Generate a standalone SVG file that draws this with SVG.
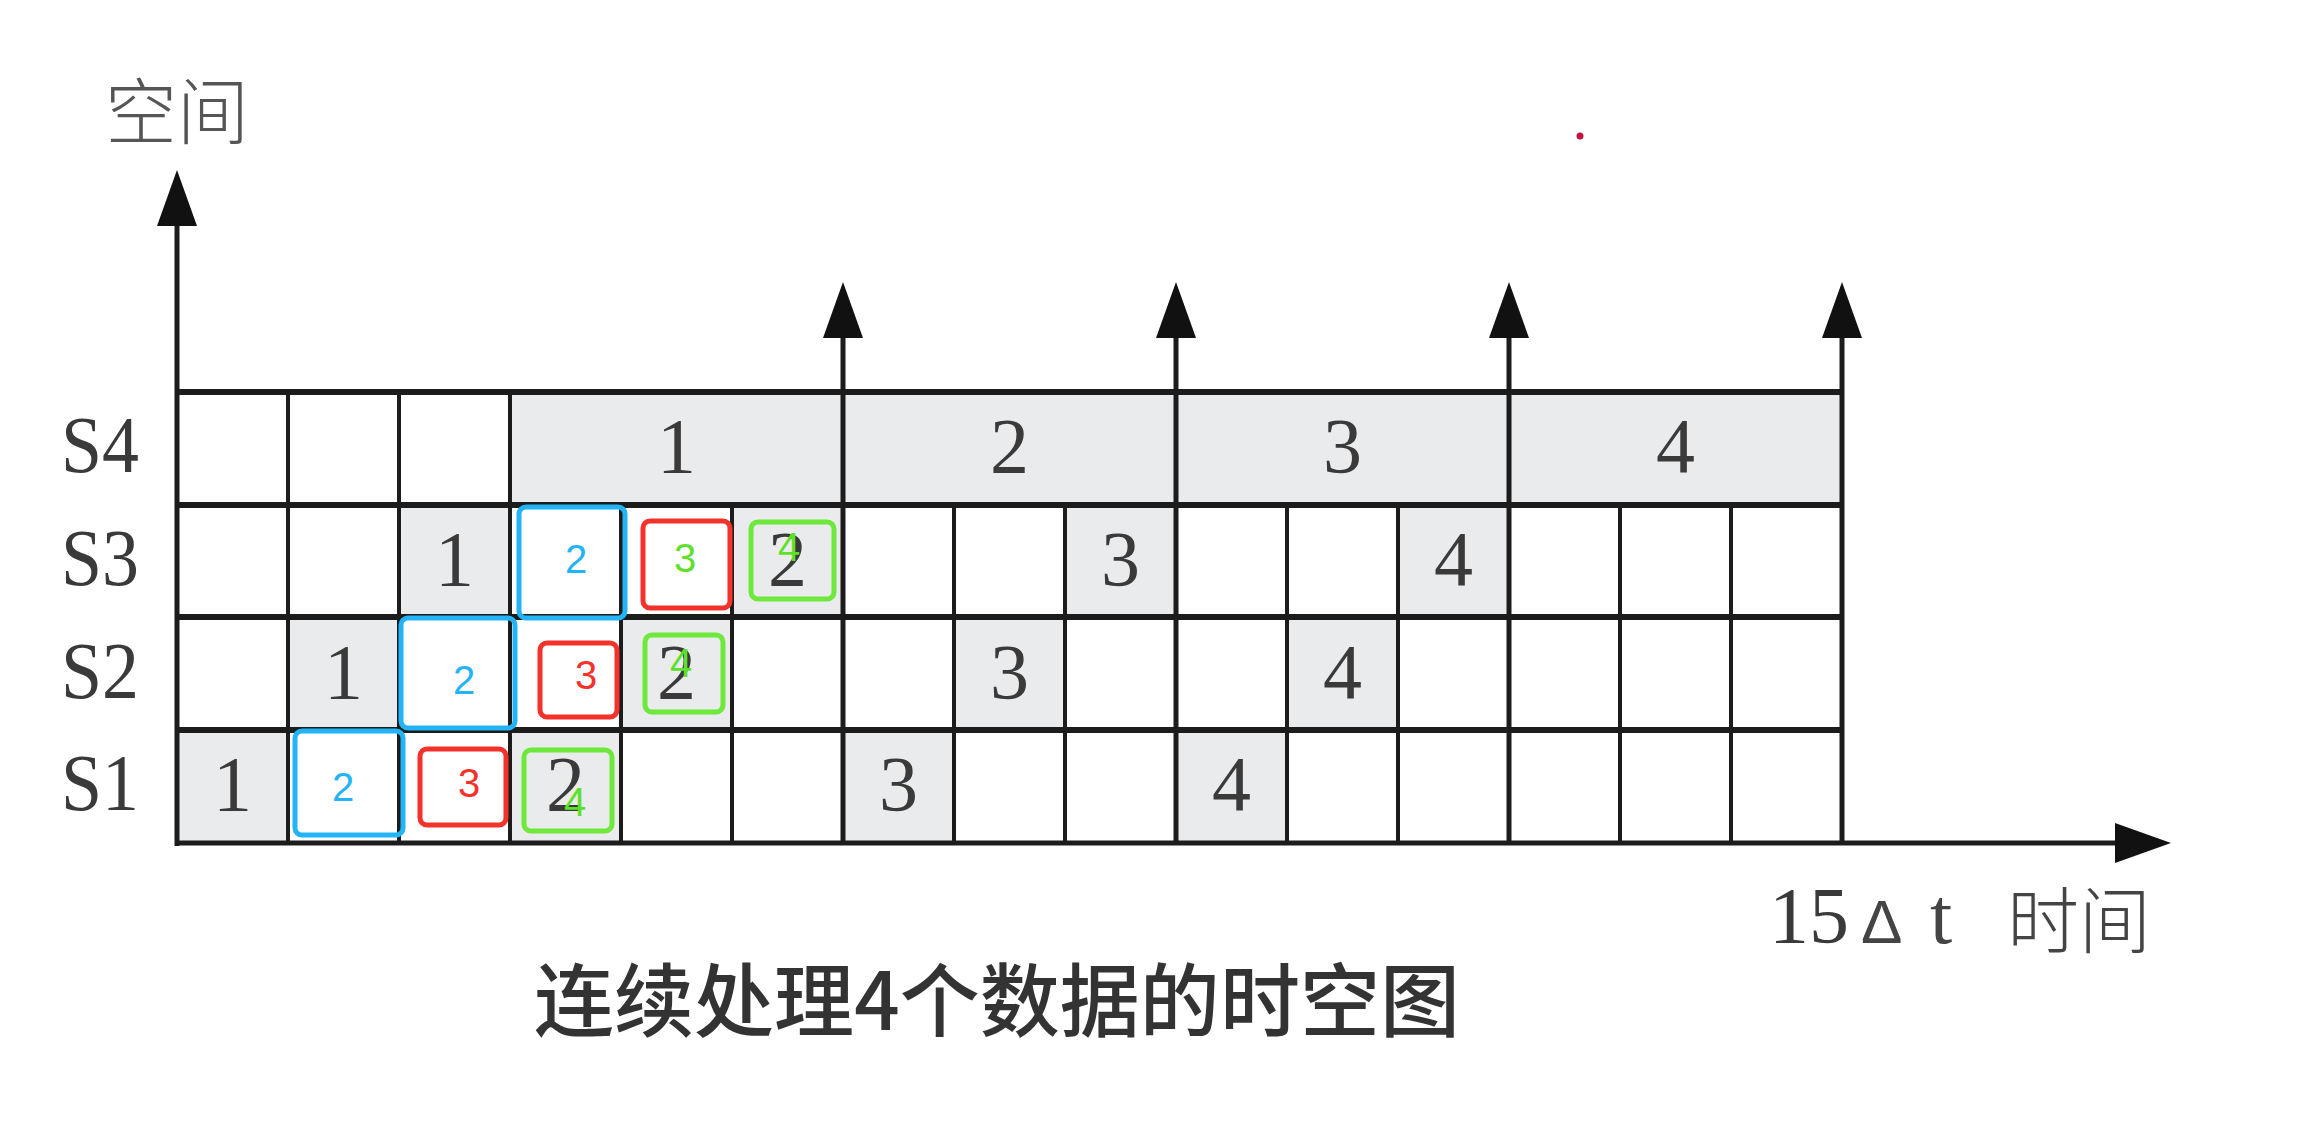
<svg xmlns="http://www.w3.org/2000/svg" width="2300" height="1130" viewBox="0 0 2300 1130">
<defs>
<marker id="ah" viewBox="0 0 56 40" refX="36" refY="20" markerWidth="56" markerHeight="40" markerUnits="userSpaceOnUse" orient="auto"><path d="M0,0 L56,20 L0,40 z" fill="#111"/></marker>
</defs>
<style>
.g{fill:#e9ebed}
.ln{stroke:#1c1c1c;stroke-width:4;fill:none}
.hl{stroke:#1c1c1c;stroke-width:6;fill:none}
.ax{stroke:#1c1c1c;stroke-width:5;fill:none;marker-end:url(#ah)}
.d{font-family:"Liberation Serif","Times New Roman",serif;font-size:78px;fill:#3a3a3a;text-anchor:middle}
.s{font-family:"Liberation Serif","Times New Roman",serif;font-size:80px;fill:#3a3a3a}
.a{font-family:"Liberation Sans",Arial,sans-serif;font-size:40px;text-anchor:middle}
.cjk{font-family:"Noto Sans CJK SC",sans-serif}
.bb{fill:none;stroke:#22b4f6;stroke-width:5}
.rb{fill:none;stroke:#f2322b;stroke-width:5}
.gb{fill:none;stroke:#6ee83a;stroke-width:5}
.bt{fill:#22b4f6}.rt{fill:#f2322b}.gt{fill:#5fe02a}
</style>
<rect width="2300" height="1130" fill="#ffffff"/>

<g id="shading">
<rect class="g" x="177" y="730" width="111" height="113"/>
<rect class="g" x="510" y="730" width="111" height="113"/>
<rect class="g" x="843" y="730" width="111" height="113"/>
<rect class="g" x="1176" y="730" width="111" height="113"/>
<rect class="g" x="288" y="617" width="111" height="113"/>
<rect class="g" x="621" y="617" width="111" height="113"/>
<rect class="g" x="954" y="617" width="111" height="113"/>
<rect class="g" x="1287" y="617" width="111" height="113"/>
<rect class="g" x="399" y="505" width="111" height="112"/>
<rect class="g" x="732" y="505" width="111" height="112"/>
<rect class="g" x="1065" y="505" width="111" height="112"/>
<rect class="g" x="1398" y="505" width="111" height="112"/>
<rect class="g" x="510" y="392" width="1332" height="113"/>
</g>

<g id="connectors">
<line class="hl" x1="177" y1="392" x2="1842" y2="392"/>
<line class="hl" x1="177" y1="505" x2="1842" y2="505"/>
<line class="hl" x1="177" y1="617" x2="1842" y2="617"/>
<line class="hl" x1="177" y1="730" x2="1842" y2="730"/>
<line class="ln" x1="288" y1="392" x2="288" y2="843"/>
<line class="ln" x1="399" y1="392" x2="399" y2="843"/>
<line class="ln" x1="510" y1="392" x2="510" y2="843"/>
<line class="ln" x1="621" y1="505" x2="621" y2="843"/>
<line class="ln" x1="732" y1="505" x2="732" y2="843"/>
<line class="ln" x1="954" y1="505" x2="954" y2="843"/>
<line class="ln" x1="1065" y1="505" x2="1065" y2="843"/>
<line class="ln" x1="1287" y1="505" x2="1287" y2="843"/>
<line class="ln" x1="1398" y1="505" x2="1398" y2="843"/>
<line class="ln" x1="1620" y1="505" x2="1620" y2="843"/>
<line class="ln" x1="1731" y1="505" x2="1731" y2="843"/>
<line class="ax" x1="843" y1="843" x2="843" y2="302"/>
<line class="ax" x1="1176" y1="843" x2="1176" y2="302"/>
<line class="ax" x1="1509" y1="843" x2="1509" y2="302"/>
<line class="ax" x1="1842" y1="843" x2="1842" y2="302"/>
<line class="ax" x1="177" y1="846" x2="177" y2="190"/>
<line class="ax" x1="175" y1="843" x2="2151" y2="843"/>
</g>

<g id="labels">
<text class="s" x="61" y="472" textLength="78" lengthAdjust="spacingAndGlyphs">S4</text>
<text class="s" x="61" y="585" textLength="78" lengthAdjust="spacingAndGlyphs">S3</text>
<text class="s" x="61" y="698" textLength="78" lengthAdjust="spacingAndGlyphs">S2</text>
<text class="s" x="61" y="810" textLength="78" lengthAdjust="spacingAndGlyphs">S1</text>
<text class="cjk" x="105" y="138" font-size="72" font-weight="300" fill="#555">空间</text>
<text y="943" fill="#444"><tspan class="s" x="1769" font-size="80">15</tspan><tspan x="1861" font-family="Liberation Sans, sans-serif" font-size="62">Δ</tspan><tspan x="1930" font-family="Liberation Serif, serif" font-size="80">t</tspan><tspan x="2007" y="947" font-family="Noto Sans CJK SC, sans-serif" font-size="72" font-weight="300">时间</tspan></text>
<text class="cjk" x="534" y="1030" font-size="80" font-weight="500" fill="#333" textLength="926" lengthAdjust="spacingAndGlyphs">连续处理4个数据的时空图</text>
<circle cx="1580" cy="136" r="3.5" fill="#c0143c"/>
</g>

<g id="row-S1">
<text class="d" x="232.5" y="810">1</text>
<text class="d" x="565.5" y="810">2</text>
<text class="d" x="898.5" y="810">3</text>
<text class="d" x="1231.5" y="810">4</text>
</g>
<g id="row-S2">
<text class="d" x="343.5" y="698">1</text>
<text class="d" x="676.5" y="698">2</text>
<text class="d" x="1009.5" y="698">3</text>
<text class="d" x="1342.5" y="698">4</text>
</g>
<g id="row-S3">
<text class="d" x="454.5" y="585">1</text>
<text class="d" x="787.5" y="585">2</text>
<text class="d" x="1120.5" y="585">3</text>
<text class="d" x="1453.5" y="585">4</text>
</g>
<g id="row-S4">
<text class="d" x="676.5" y="472">1</text>
<text class="d" x="1009.5" y="472">2</text>
<text class="d" x="1342.5" y="472">3</text>
<text class="d" x="1675.5" y="472">4</text>
</g>

<g id="mark-blue">
<rect class="bb" x="295" y="731" width="108" height="104" rx="7"/>
<rect class="bb" x="401" y="618" width="114" height="110" rx="7"/>
<rect class="bb" x="519" y="507" width="106" height="111" rx="7"/>
<text class="a bt" x="343" y="801">2</text>
<text class="a bt" x="464" y="694">2</text>
<text class="a bt" x="576" y="573">2</text>
</g>
<g id="mark-red">
<rect class="rb" x="420" y="749" width="86" height="76" rx="7"/>
<rect class="rb" x="540" y="643" width="77" height="74" rx="7"/>
<rect class="rb" x="643" y="521" width="87" height="87" rx="7"/>
<text class="a rt" x="469" y="797">3</text>
<text class="a rt" x="586" y="689">3</text>
<text class="a gt" x="685" y="572">3</text>
</g>
<g id="mark-green">
<rect class="gb" x="524" y="750" width="88" height="81" rx="7"/>
<rect class="gb" x="645" y="635" width="78" height="77" rx="7"/>
<rect class="gb" x="751" y="522" width="83" height="77" rx="7"/>
<text class="a gt" x="575" y="816">4</text>
<text class="a gt" x="681" y="677">4</text>
<text class="a gt" x="789" y="561">4</text>
</g>
</svg>
